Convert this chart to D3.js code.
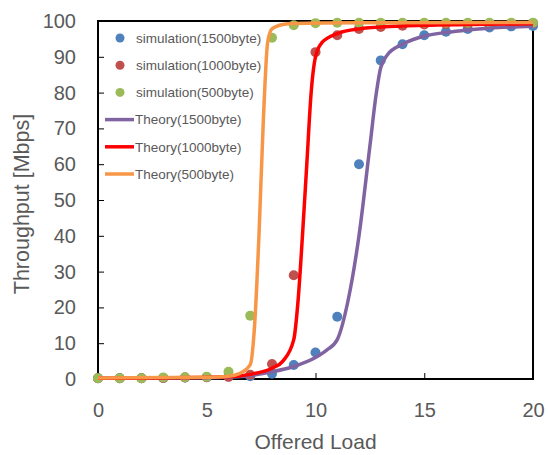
<!DOCTYPE html>
<html>
<head>
<meta charset="utf-8">
<script src="https://cdn.jsdelivr.net/npm/d3@7"></script>
<style>
  body { margin: 0; background: #fff; }
  text { font-family: "Liberation Sans", Arial, sans-serif; fill: #595959; }
</style>
</head>
<body>
<div id="chart"></div>
<script>
// offered load for the simulation points
const loads = [0, 1, 2, 3, 4, 5, 6, 7, 8, 9, 10, 11, 12, 13, 14, 15, 16, 17, 18, 19, 20];
const sim1500 = [0.2, 0.2, 0.2, 0.3, 0.4, 0.5, 0.7, 0.8, 1.5, 3.9, 7.4, 17.4, 60, 89, 93.5, 96, 97, 97.8, 98.2, 98.5, 98.6];
const sim1000 = [0.2, 0.2, 0.2, 0.3, 0.4, 0.5, 0.6, 1.2, 4.2, 29, 91.3, 96, 97.8, 98.3, 98.7, 99, 99.2, 99.3, 99.3, 99.4, 99.4];
const sim500 = [0.2, 0.2, 0.2, 0.4, 0.5, 0.6, 2.0, 17.7, 95.3, 98.8, 99.4, 99.5, 99.5, 99.5, 99.5, 99.5, 99.5, 99.5, 99.5, 99.5, 99.5];

// theory curves
const th1500X = [0, 3, 6, 7, 8, 9, 10, 10.5, 11, 11.5, 12, 12.5, 12.8, 13, 13.3, 14, 15, 16, 17, 18, 20];
const th1500Y = [0.2, 0.3, 0.5, 1, 2, 3.5, 6, 8, 11, 22, 40, 65, 80, 87, 90.5, 93.5, 95.8, 96.8, 97.5, 98, 98.5];
const th1000X = [0, 3, 6, 7, 8, 8.5, 9, 9.2, 9.4, 9.6, 9.8, 10, 10.3, 11, 12, 14, 17, 20];
const th1000Y = [0.2, 0.3, 0.6, 1.3, 3, 5, 11, 22, 40, 60, 80, 90, 94, 96.5, 97.8, 98.6, 99, 99.2];
const th500X = [0, 3, 5, 6, 6.5, 7, 7.2, 7.4, 7.6, 7.8, 8, 8.5, 9, 12, 20];
const th500Y = [0.3, 0.4, 0.5, 0.8, 1.5, 4, 15, 40, 72, 94, 97.8, 99, 99.3, 99.5, 99.6];

const xTicks = [0, 5, 10, 15, 20];
const yTicks = [0, 10, 20, 30, 40, 50, 60, 70, 80, 90, 100];

const simSeries = [
  { name: 'simulation(1500byte)', values: sim1500, color: '#4F81BD' },
  { name: 'simulation(1000byte)', values: sim1000, color: '#C0504D' },
  { name: 'simulation(500byte)', values: sim500, color: '#9BBB59' }
];
const theorySeries = [
  { name: 'Theory(1500byte)', xs: th1500X, ys: th1500Y, color: '#8064A2' },
  { name: 'Theory(1000byte)', xs: th1000X, ys: th1000Y, color: '#FF0000' },
  { name: 'Theory(500byte)', xs: th500X, ys: th500Y, color: '#F79646' }
];

const width = 548;
const height = 455;
const margin = { top: 21, right: 15, bottom: 76, left: 98 };
const w = 533 - margin.left;
const h = 379 - margin.top;

const svg = d3.select('#chart')
  .append('svg')
  .attr('width', width)
  .attr('height', height);

const g = svg.append('g')
  .attr('transform', `translate(${margin.left},${margin.top})`);

const x = d3.scaleLinear().domain([0, 20]).range([0, w]);
const y = d3.scaleLinear().domain([0, 100]).range([h, 0]);

// frame
g.append('rect')
  .attr('width', w)
  .attr('height', h)
  .attr('fill', 'none')
  .attr('stroke', '#000')
  .attr('stroke-width', 2);

// y axis with inward ticks
const yAxis = g.append('g')
  .call(d3.axisLeft(y).tickValues(yTicks).tickSize(-6).tickPadding(22));
yAxis.select('.domain').remove();
yAxis.selectAll('line').attr('stroke', '#000');
yAxis.selectAll('text').attr('font-size', 20).attr('fill', '#595959');

// x axis with inward ticks
const xAxis = g.append('g')
  .attr('transform', `translate(0,${h})`)
  .call(d3.axisBottom(x).tickValues(xTicks).tickSize(-6).tickPadding(24));
xAxis.select('.domain').remove();
xAxis.selectAll('line').attr('stroke', '#000');
xAxis.selectAll('text').attr('font-size', 20).attr('fill', '#595959');

// axis titles
svg.append('text')
  .attr('x', margin.left + w / 2)
  .attr('y', 449)
  .attr('text-anchor', 'middle')
  .attr('font-size', 21)
  .text('Offered Load');

svg.append('text')
  .attr('transform', `translate(29,${margin.top + h / 2 + 4}) rotate(-90)`)
  .attr('text-anchor', 'middle')
  .attr('font-size', 21.5)
  .text('Throughput [Mbps]');

// simulation points
simSeries.forEach(s => {
  g.selectAll(null)
    .data(s.values)
    .enter().append('circle')
    .attr('cx', (d, i) => x(loads[i]))
    .attr('cy', d => y(d))
    .attr('r', 5)
    .attr('fill', s.color);
});

// theory lines
const line = d3.line()
  .x(d => x(d[0]))
  .y(d => y(d[1]))
  .curve(d3.curveMonotoneX);

theorySeries.forEach(s => {
  g.append('path')
    .datum(s.xs.map((v, i) => [v, s.ys[i]]))
    .attr('d', line)
    .attr('fill', 'none')
    .attr('stroke', s.color)
    .attr('stroke-width', 3.5);
});

// legend
const legend = svg.append('g').attr('transform', 'translate(105,38)');
const rowH = 27.2;
simSeries.forEach((s, i) => {
  legend.append('circle')
    .attr('cx', 15)
    .attr('cy', i * rowH)
    .attr('r', 4.5)
    .attr('fill', s.color);
  legend.append('text')
    .attr('x', 31)
    .attr('y', i * rowH)
    .attr('dy', '0.35em')
    .attr('font-size', 13.5)
    .text(s.name);
});
theorySeries.forEach((s, i) => {
  const yy = (i + 3) * rowH;
  legend.append('line')
    .attr('x1', 0)
    .attr('x2', 29)
    .attr('y1', yy)
    .attr('y2', yy)
    .attr('stroke', s.color)
    .attr('stroke-width', 3.5);
  legend.append('text')
    .attr('x', 30)
    .attr('y', yy)
    .attr('dy', '0.35em')
    .attr('font-size', 13.5)
    .text(s.name);
});
</script>
</body>
</html>
